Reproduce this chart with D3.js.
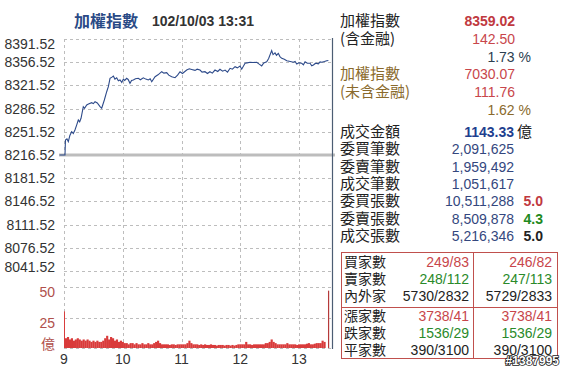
<!DOCTYPE html>
<html>
<head>
<meta charset="utf-8">
<script src="https://cdn.jsdelivr.net/npm/d3@7"></script>
<style>
  body { margin: 0; background: #fff; }
  svg text { font-family: "Liberation Sans", Arial, "Noto Sans CJK TC", sans-serif; }
  .cjk { font-family: "Noto Sans CJK TC", sans-serif; }
</style>
</head>
<body>
<div id="chart"></div>
<script>
// minutes after 09:00 and index value
var priceTime = [0,1,1.5,3,4.4,6,7.8,9.5,11.2,13,14.6,16,17.4,19.7,21,23.2,25,28.3,30,31.7,34,36.8,38.5,41.2,43.6,45.3,47,49,50.4,52,53.8,55.5,57.2,59,60.6,62,64,65.5,67.4,69,70.8,73,75.9,78,81,83.5,86.1,88,89.6,93,96,99.8,102,104.9,107,110,113.4,116,118.5,121,125.3,128,130.4,133.8,136,138.9,141,144,146.5,149,151.5,154.2,157,159.3,162,164.5,167,169.6,172,174.7,177,179.8,181.5,184.9,187,190,193,196.8,199,201.9,204,207,209,212.1,213.5,215.5,217,218.9,220.5,222.4,225,227.5,230,234.2,236,237.7,240,242.8,244.5,246.2,248.5,251.3,253,254.7,257,259.8,261.5,263.2,266,268.3,270];
var priceValue = [8216.52,8216.52,8239.2,8241.0,8236.6,8246.0,8251.7,8249.0,8254.2,8262.0,8269.3,8266.5,8271.9,8289.4,8287.0,8292.0,8293.5,8295.4,8294.0,8296.9,8295.0,8289.4,8287.0,8299.5,8312.0,8319.6,8332.2,8334.0,8335.7,8331.0,8333.1,8328.5,8329.7,8326.0,8331.0,8329.0,8332.2,8330.5,8324.7,8329.0,8329.7,8331.5,8332.2,8330.0,8333.0,8331.0,8329.7,8331.5,8327.1,8334.6,8337.5,8342.2,8340.0,8340.7,8337.0,8334.6,8333.1,8337.0,8342.2,8339.5,8344.7,8346.5,8345.5,8344.2,8346.0,8344.7,8341.5,8342.2,8339.5,8342.2,8340.0,8344.7,8342.5,8345.8,8343.0,8344.7,8341.5,8347.3,8346.0,8349.7,8348.0,8350.8,8346.0,8354.9,8355.5,8356.4,8356.0,8356.4,8354.0,8351.0,8355.5,8357.3,8362.0,8374.0,8368.0,8370.5,8367.0,8369.9,8365.0,8362.4,8361.0,8358.8,8358.0,8356.4,8357.5,8353.8,8355.5,8354.9,8352.5,8357.3,8355.0,8354.9,8351.0,8352.3,8355.0,8354.0,8357.0,8356.4,8357.5,8358.8,8359.02];
var prevClose = 8216.52;
var priceTicks = [8391.52,8356.52,8321.52,8286.52,8251.52,8216.52,8181.52,8146.52,8111.52,8076.52,8041.52];

// volume (億) in 2-minute bins starting 09:01, plus opening and closing auction
var openVol = 30, closeVol = 47;
var volValue = [8,9,7,8,6,7,8,7,6,7, 6,7,6,5,6,5,6,5,5,6, 8,10,7,9,8,6,7,5,6,5,
  4,4,3,4,4,3,4,3,3,4, 3,3,4,3,3,4,5,6,4,3, 3,3,3,2.5,3,3,2.5,3,3,3,
  3,3,4,6,4,3,3,3,2.5,3, 2.5,3,2.5,2.5,3,2.5,2.5,2,2.5,2.5, 2.5,2,2.5,2.5,2,2.5,2,2.5,3,3,
  3,3,5,3,3,2.5,3,3,3,3, 3,3,4,4,5,7,5,4,3,3, 3,3,3,4,3,3,3,3,2.5,3,
  3,3,3,3.5,4,3,3,3.5,4,4, 4,6,5];
var volTicks = [50, 25];
var hourLabels = ["9","10","11","12","13"];

var infoRows = [
  ["加權指數", "8359.02", "", "#222", "#c0393f", true],
  ["(含金融)", "142.50", "", "#222", "#c8464b", false],
  ["", "", "1.73 %", "#2c3e50", "#2c3e50", false],
  ["加權指數", "7030.07", "", "#8a6a2c", "#c8464b", false],
  ["(未含金融)", "111.76", "", "#8a6a2c", "#c8464b", false],
  ["", "", "1.62 %", "#8a6a2c", "#8a6a2c", false]
];
var tradeLabels = ["成交金額","委買筆數","委賣筆數","成交筆數","委買張數","委賣張數","成交張數"];
var tradeValues = ["1143.33","2,091,625","1,959,492","1,051,617","10,511,288","8,509,878","5,216,346"];
var tradeRatios = ["","","","","5.0","4.3","5.0"];
var ratioColors = ["","","","","#c0393f","#1e8a1e","#222"];

var boxLabels = [["買家數","賣家數","內外家"],["漲家數","跌家數","平家數"]];
var boxLeft = [["249/83","248/112","5730/2832"],["3738/41","1536/29","390/3100"]];
var boxRight = [["246/82","247/113","5729/2833"],["3738/41","1536/29","390/3100"]];
var boxColors = ["#c8464b","#2a8a2a","#222"];

var W = 565, H = 369;
var svg = d3.select("#chart").append("svg").attr("width", W).attr("height", H);
svg.append("rect").attr("width", W).attr("height", H).attr("fill", "#fff");

var x = d3.scaleLinear().domain([0, 273.7]).range([64, 332]);
var y = d3.scaleLinear().domain([8041.52, 8391.52]).range([271, 39]);
var yv = d3.scaleLinear().domain([0, 50]).range([348, 287]);

var grid = svg.append("g").attr("stroke", "#bdbdbd").attr("stroke-dasharray", "3,3").attr("stroke-width", 1);
priceTicks.forEach(function(t) {
  grid.append("line").attr("x1", 64).attr("x2", 332).attr("y1", Math.round(y(t)) + 0.5).attr("y2", Math.round(y(t)) + 0.5);
});
grid.append("line").attr("x1", 64).attr("x2", 332).attr("y1", 271.5).attr("y2", 271.5);
volTicks.forEach(function(t) {
  grid.append("line").attr("x1", 64).attr("x2", 332).attr("y1", Math.round(yv(t)) + 0.5).attr("y2", Math.round(yv(t)) + 0.5);
});
grid.append("line").attr("x1", 64).attr("x2", 332).attr("y1", 348.5).attr("y2", 348.5);
hourLabels.forEach(function(h, i) {
  var xx = Math.round(x(i * 60)) + 0.5;
  grid.append("line").attr("x1", xx).attr("x2", xx).attr("y1", 39).attr("y2", 350);
});

// reference line
svg.append("line").attr("x1", 59).attr("x2", 335)
  .attr("y1", y(prevClose)).attr("y2", y(prevClose))
  .attr("stroke", "#bdbdbd").attr("stroke-width", 3);

// right border
svg.append("line").attr("x1", 332.5).attr("x2", 332.5).attr("y1", 38).attr("y2", 349)
  .attr("stroke", "#4c5d73").attr("stroke-width", 1.2);

// price line
var line = d3.line().x(function(d) { return x(d[0]); }).y(function(d) { return y(d[1]); });
var pts = priceTime.map(function(t, i) { return [t, priceValue[i]]; });
svg.append("path").datum([[ -4.5, prevClose]].concat(pts))
  .attr("d", line).attr("fill", "none").attr("stroke", "#2d4a8a").attr("stroke-width", 1.1);

// volume bars
var vol = svg.append("g").attr("fill", "#d93b3b");
vol.append("rect").attr("x", x(0)).attr("width", x(1) - x(0))
  .attr("y", yv(openVol)).attr("height", yv(0) - yv(openVol));
volValue.forEach(function(v, i) {
  var t = 1 + i * 2;
  vol.append("rect").attr("x", x(t)).attr("width", x(t + 2) - x(t) + 0.2)
    .attr("y", yv(v)).attr("height", yv(0) - yv(v));
});
svg.append("rect").attr("x", x(269.6)).attr("width", 1.2)
  .attr("y", yv(closeVol)).attr("height", yv(0) - yv(closeVol)).attr("fill", "#b53a3a");

// y labels
svg.selectAll("text.py").data(priceTicks).enter().append("text")
  .attr("x", 55).attr("y", function(d, i) {
    var yy = y(d) + 5;
    if (i === 0) yy = y(d) + 10;
    if (i === priceTicks.length - 1) yy = y(d) + 1;
    return yy;
  })
  .attr("text-anchor", "end").attr("font-size", 14).attr("fill", "#333")
  .text(function(d) { return d.toFixed(2); });

svg.selectAll("text.vy").data(volTicks).enter().append("text")
  .attr("x", 55).attr("y", function(d) { return yv(d) + 10; })
  .attr("text-anchor", "end").attr("font-size", 14).attr("fill", "#b0504c")
  .text(function(d) { return d; });
svg.append("text").attr("class", "cjk").attr("x", 55).attr("y", 349)
  .attr("text-anchor", "end").attr("font-size", 14).attr("fill", "#b0504c").text("億");

svg.selectAll("text.hx").data(hourLabels).enter().append("text")
  .attr("x", function(d, i) { return x(i * 60); }).attr("y", 364)
  .attr("text-anchor", "middle").attr("font-size", 14).attr("fill", "#333")
  .text(function(d) { return d; });

// title
svg.append("text").attr("class", "cjk").attr("x", 74).attr("y", 27)
  .attr("font-size", 16).attr("font-weight", "bold").attr("fill", "#2a4a86").text("加權指數");
svg.append("text").attr("x", 152).attr("y", 26)
  .attr("font-size", 14).attr("font-weight", "bold").attr("fill", "#333").text("102/10/03 13:31");

// right info panel
infoRows.forEach(function(r, i) {
  var yy = 26 + i * 17.8;
  if (r[0]) svg.append("text").attr("class", "cjk").attr("x", 340).attr("y", yy)
    .attr("font-size", 15).attr("fill", r[3]).text(r[0]);
  if (r[1]) svg.append("text").attr("x", 515).attr("y", yy).attr("text-anchor", "end")
    .attr("font-size", 14).attr("font-weight", r[5] ? "bold" : "normal").attr("fill", r[4]).text(r[1]);
  if (r[2]) svg.append("text").attr("x", 531).attr("y", yy).attr("text-anchor", "end")
    .attr("font-size", 14).attr("fill", r[4]).text(r[2]);
});

tradeLabels.forEach(function(l, i) {
  var yy = 137 + i * 17.3;
  svg.append("text").attr("class", "cjk").attr("x", 340).attr("y", yy)
    .attr("font-size", 15).attr("fill", "#222").text(l);
  svg.append("text").attr("x", 514).attr("y", yy).attr("text-anchor", "end")
    .attr("font-size", 14).attr("font-weight", i === 0 ? "bold" : "normal")
    .attr("fill", i === 0 ? "#1f3f8f" : "#34477e").text(tradeValues[i]);
  if (tradeRatios[i]) svg.append("text").attr("x", 543).attr("y", yy).attr("text-anchor", "end")
    .attr("font-size", 14).attr("font-weight", "bold").attr("fill", ratioColors[i]).text(tradeRatios[i]);
});
svg.append("text").attr("class", "cjk").attr("x", 517).attr("y", 137)
  .attr("font-size", 15).attr("fill", "#222").text("億");

// breadth box
var box = svg.append("g").attr("fill", "none").attr("stroke", "#c0504d").attr("stroke-width", 1);
box.append("rect").attr("x", 341.5).attr("y", 252.5).attr("width", 216).attr("height", 106);
box.append("line").attr("x1", 473.5).attr("x2", 473.5).attr("y1", 252.5).attr("y2", 358.5);
box.append("line").attr("x1", 341.5).attr("x2", 557.5).attr("y1", 307.5).attr("y2", 307.5);

boxLabels.forEach(function(group, g) {
  group.forEach(function(l, i) {
    var yy = 267 + g * 54 + i * 17.2;
    svg.append("text").attr("class", "cjk").attr("x", 344).attr("y", yy)
      .attr("font-size", 14).attr("fill", "#222").text(l);
    svg.append("text").attr("x", 469).attr("y", yy).attr("text-anchor", "end")
      .attr("font-size", 14).attr("fill", boxColors[i]).text(boxLeft[g][i]);
    svg.append("text").attr("x", 552).attr("y", yy).attr("text-anchor", "end")
      .attr("font-size", 14).attr("fill", boxColors[i]).text(boxRight[g][i]);
  });
});

// watermark
svg.append("text").attr("x", 559).attr("y", 365).attr("text-anchor", "end")
  .attr("font-size", 12).attr("font-weight", "bold").attr("fill", "#fff")
  .attr("stroke", "#222").attr("stroke-width", 1.6).attr("paint-order", "stroke")
  .text("#1387995");
</script>
</body>
</html>
